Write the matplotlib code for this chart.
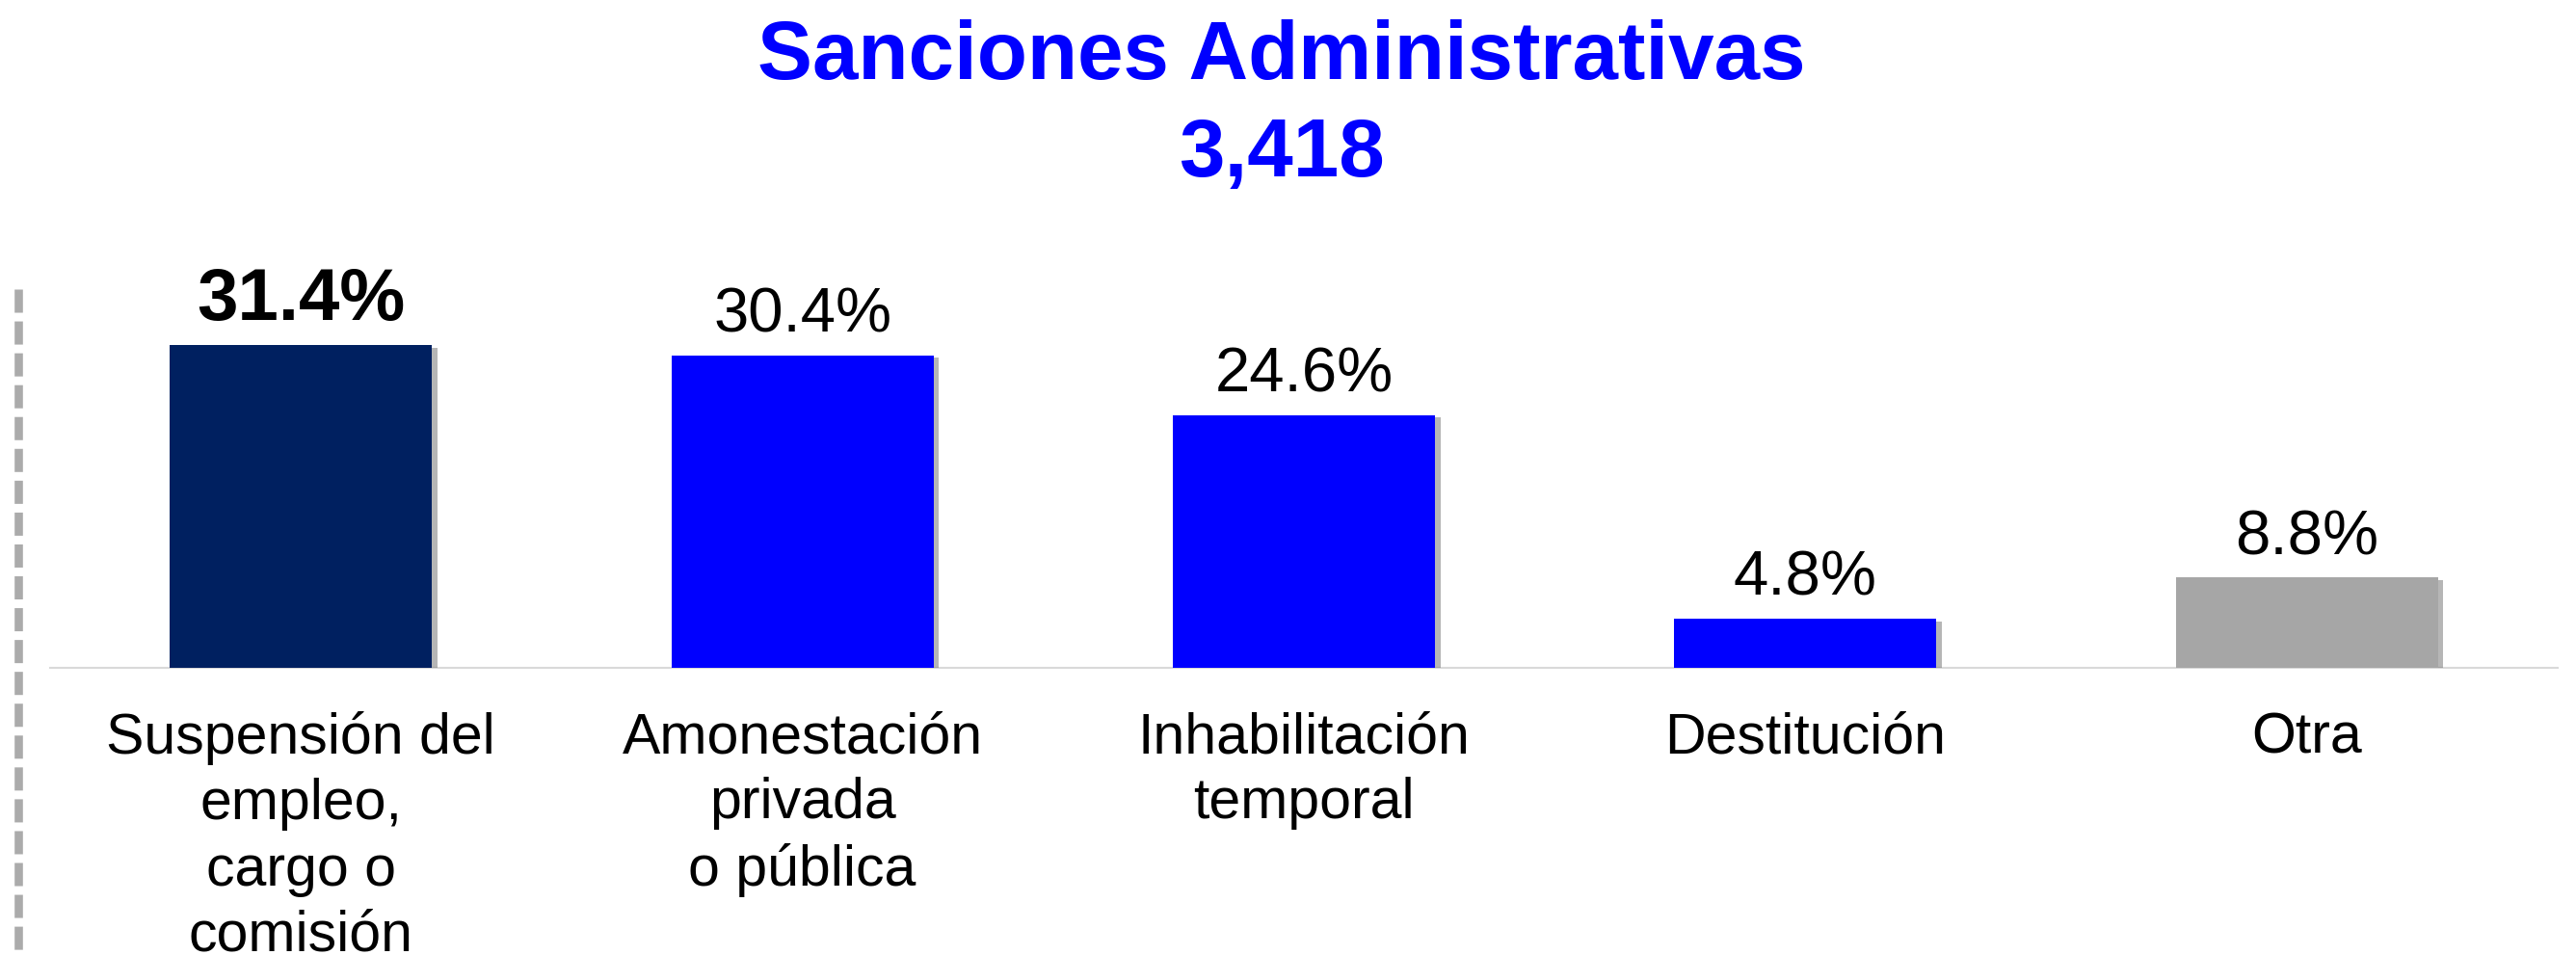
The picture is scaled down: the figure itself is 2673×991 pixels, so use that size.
import matplotlib
matplotlib.use("Agg")
import matplotlib.pyplot as plt
import matplotlib.patheffects as pe
from matplotlib.lines import Line2D

plt.rcParams['font.family'] = ['Liberation Sans', 'DejaVu Sans']
plt.rcParams['lines.scale_dashes'] = False

# Data
categories = ["Suspensión del\nempleo,\ncargo o\ncomisión",
              "Amonestación\nprivada\no pública",
              "Inhabilitación\ntemporal",
              "Destitución",
              "Otra"]
values = [31.4, 30.4, 24.6, 4.8, 8.8]
value_labels = ["31.4%", "30.4%", "24.6%", "4.8%", "8.8%"]
bar_colors = ["#002060", "#0000FF", "#0000FF", "#0000FF", "#A6A6A6"]
title_line1 = "Sanciones Administrativas"
title_line2 = "3,418"

W, H = 2673, 991
fig = plt.figure(figsize=(W / 100, H / 100), dpi=100)

# axes placed so the baseline sits where the reference has it
ax = fig.add_axes([52 / W, 1 - 693 / H, (2654 - 52) / W, (693 - 300) / H])
ax.set_xlim(-0.5, 4.5)
ax.set_ylim(0, 36.83)

shadow = [pe.SimplePatchShadow(offset=(4, -2), shadow_rgbFace="#6f6f6f", alpha=0.5), pe.Normal()]
x = list(range(len(values)))
bars = ax.bar(x, values, width=0.523, color=bar_colors, zorder=3)
for b in bars:
    b.set_path_effects(shadow)

# value labels, first one bold and bigger
for i, (v, lab) in enumerate(zip(values, value_labels)):
    if i == 0:
        ax.annotate(lab, (i, v), xytext=(0, 18.7), textcoords="offset points",
                    ha="center", va="baseline", fontsize=55, fontweight="bold", color="black")
    else:
        ax.annotate(lab, (i, v), xytext=(0, 17.3), textcoords="offset points",
                    ha="center", va="baseline", fontsize=47, color="black")

# category labels under the baseline
for i, cat in enumerate(categories):
    ax.annotate(cat, (i, 0), xytext=(0, -32.4), textcoords="offset points",
                ha="center", va="top", multialignment="center",
                fontsize=42.5, linespacing=1.31, color="black", annotation_clip=False)

for s in ["top", "right", "left"]:
    ax.spines[s].set_visible(False)
ax.spines["bottom"].set_color("#d9d9d9")
ax.spines["bottom"].set_linewidth(1.5)
ax.set_xticks([])
ax.set_yticks([])

# dashed vertical line at the left edge
fig.add_artist(Line2D([19 / W, 19 / W], [1 - 300 / H, 0], transform=fig.transFigure,
                      color="#ababab", lw=6.2, linestyle=(0, (17.3, 6.5))))

# title
fig.text(0.4975, 1 - 82 / H, title_line1, ha="center", va="baseline",
         fontsize=61.5, fontweight="bold", color="#0000FF")
fig.text(0.4975, 1 - 183 / H, title_line2, ha="center", va="baseline",
         fontsize=61.5, fontweight="bold", color="#0000FF")

fig.savefig("out.png", dpi=100)
